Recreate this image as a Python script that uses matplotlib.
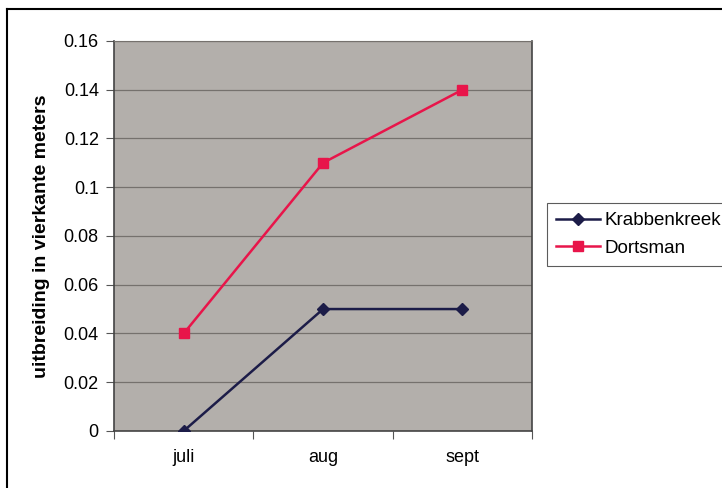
import matplotlib.pyplot as plt
from matplotlib.lines import Line2D

plt.rcParams['font.family'] = ['Liberation Sans', 'DejaVu Sans']

maanden = ['juli', 'aug', 'sept']
krabbenkreek = [0, 0.05, 0.05]
dortsman = [0.04, 0.11, 0.14]
y_ticks = [0, 0.02, 0.04, 0.06, 0.08, 0.1, 0.12, 0.14, 0.16]
y_labels = ['0', '0.02', '0.04', '0.06', '0.08', '0.1', '0.12', '0.14', '0.16']

fig = plt.figure(figsize=(7.22, 4.88), dpi=100)
ax = fig.add_axes([0.158, 0.117, 0.579, 0.799])
ax.set_facecolor('#b3afab')

x = range(len(maanden))
ax.plot(x, krabbenkreek, color='#1c1c48', marker='D', markersize=6, lw=1.8,
        label='Krabbenkreek', zorder=3)
ax.plot(x, dortsman, color='#e8154a', marker='s', markersize=7, lw=1.8,
        label='Dortsman', zorder=3)

ax.set_xlim(-0.5, 2.5)
ax.set_ylim(0, 0.16)
ax.set_yticks(y_ticks)
ax.set_yticklabels(y_labels, fontsize=13)
ax.set_xticks([-0.5, 0.5, 1.5, 2.5])
ax.set_xticklabels([])
ax.set_xticks(list(x), minor=True)
ax.set_xticklabels(maanden, minor=True, fontsize=13)
ax.tick_params(axis='x', which='minor', length=0, pad=13)
ax.tick_params(axis='x', which='major', length=6, direction='out', color='#555555')
ax.tick_params(axis='y', length=6, direction='out', color='#555555', pad=5)
ax.yaxis.grid(True, color='#75716d', lw=0.9)
ax.set_axisbelow(True)
for s in ['left', 'bottom', 'right']:
    ax.spines[s].set_color('#444444')
    ax.spines[s].set_linewidth(1.2)
ax.spines['top'].set_color('#75716d')
ax.set_ylabel('uitbreiding in vierkante meters', fontsize=14, fontweight='bold', labelpad=10)

leg = fig.legend(loc='upper left', bbox_to_anchor=(547 / 722, 1 - 203 / 488), fontsize=13.5,
                 frameon=True, fancybox=False, edgecolor='#333333', borderpad=0.5,
                 handlelength=2.3, handletextpad=0.25, labelspacing=0.55, borderaxespad=0)
leg.get_frame().set_linewidth(0.8)

# rand links en boven
fig.add_artist(Line2D([7 / 722, 7 / 722], [0, 1 - 9 / 488], color='black', lw=1.5,
                      transform=fig.transFigure))
fig.add_artist(Line2D([7 / 722, 1], [1 - 9 / 488, 1 - 9 / 488], color='black', lw=1.5,
                      transform=fig.transFigure))

fig.savefig('out.png', dpi=100)
